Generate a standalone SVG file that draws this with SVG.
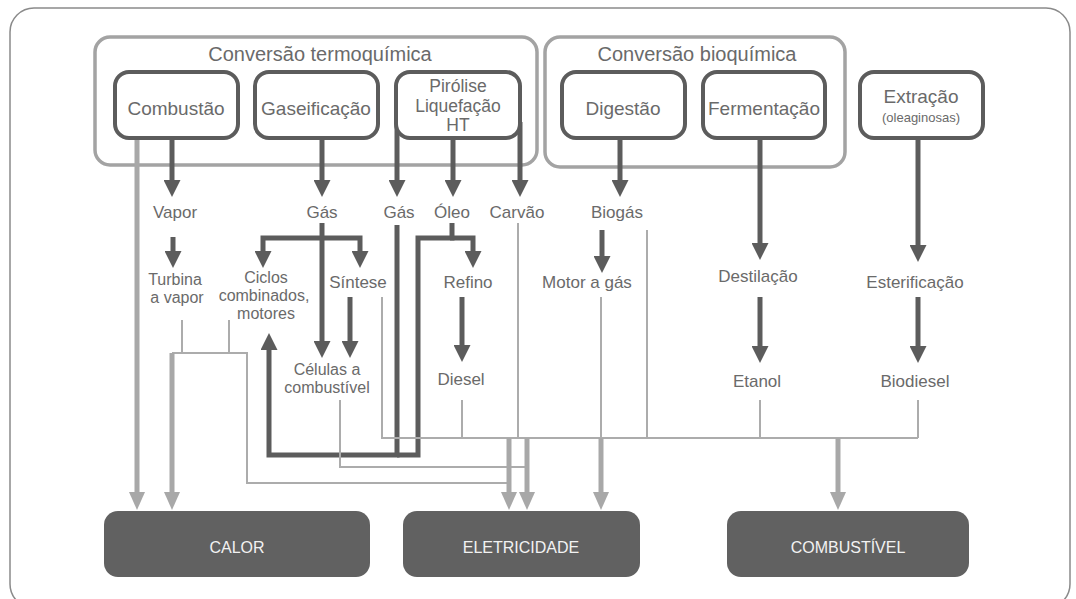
<svg xmlns="http://www.w3.org/2000/svg" width="1076" height="599" viewBox="0 0 1076 599">
<style>
.t{font-family:"Liberation Sans",Arial,sans-serif;fill:#6a6a6a;text-anchor:middle;font-size:17px}
.m{font-size:16px}
.n{font-size:19px}
.p{font-size:17.5px}
.h{font-size:20px}
.s{font-size:13px}
.w{font-family:"Liberation Sans",Arial,sans-serif;fill:#f2f2f2;text-anchor:middle;font-size:16px}
.grp{fill:none;stroke:#a3a3a3;stroke-width:3.5}
.box{fill:#fff;stroke:#5c5c5c;stroke-width:4}
.out{fill:#616161;stroke:none}
.d{fill:none;stroke:#5c5c5c;stroke-width:5;marker-end:url(#ad)}
.dn{fill:none;stroke:#5c5c5c;stroke-width:5}
.g{fill:none;stroke:#a8a8a8;stroke-width:5;marker-end:url(#ag)}
.l{fill:none;stroke:#acacac;stroke-width:2}
</style>
<defs>
<marker id="ad" viewBox="0 0 17 17" markerWidth="17" markerHeight="17" refX="5" refY="8.5" orient="auto" markerUnits="userSpaceOnUse"><path d="M0,0 L17,8.5 L0,17 z" fill="#5c5c5c"/></marker>
<marker id="ag" viewBox="0 0 18 16" markerWidth="18" markerHeight="16" refX="5" refY="8" orient="auto" markerUnits="userSpaceOnUse"><path d="M0,0 L18,8 L0,16 z" fill="#a8a8a8"/></marker>
</defs>
<rect x="0" y="0" width="1076" height="599" fill="#fff"/>
<rect x="10" y="8" width="1060" height="600" rx="24" fill="none" stroke="#8a8a8a" stroke-width="1.5"/>

<g id="grupo-termoquimica">
<rect class="grp" x="95" y="37" width="442" height="128" rx="15"/>
<text class="t h" x="320" y="61">Conversão termoquímica</text>
</g>
<g id="grupo-bioquimica">
<rect class="grp" x="545" y="37" width="300" height="130" rx="15"/>
<text class="t h" x="697" y="61">Conversão bioquímica</text>
</g>

<g id="connectors">
<path class="g" d="M137,138 V497"/>
<path class="d" d="M172,138 V185"/>
<path class="d" d="M322,138 V185"/>
<path class="d" d="M397,122 V185"/>
<path class="d" d="M453,138 V185"/>
<path class="d" d="M520,122 V185"/>
<path class="d" d="M620,138 V185"/>
<path class="d" d="M760,138 V248"/>
<path class="d" d="M918,138 V250"/>
<path class="d" d="M173,237 V256"/>
<path class="d" d="M322,223 V346"/>
<path class="d" d="M322,238 H263 V256"/>
<path class="d" d="M322,238 H360 V256"/>
<path class="d" d="M350,297 V346"/>
<path class="d" d="M397,225 V455 H269 V345"/>
<path class="dn" d="M452,223 V238 H418 V455 H397"/>
<path class="d" d="M450,238 H473 V256"/>
<path class="d" d="M462,297 V350"/>
<path class="d" d="M602,230 V261"/>
<path class="d" d="M760,297 V351"/>
<path class="d" d="M918,297 V351"/>
<path class="l" d="M182,320 V353"/>
<path class="l" d="M229,320 V353"/>
<path class="l" d="M172,353 H247 V483 H509"/>
<path class="l" d="M340,400 V467 H527"/>
<path class="l" d="M382,297 V438 H918"/>
<path class="l" d="M462,400 V438"/>
<path class="l" d="M518,223 V438"/>
<path class="l" d="M601,297 V438"/>
<path class="l" d="M647,230 V438"/>
<path class="l" d="M760,400 V438"/>
<path class="l" d="M918,400 V438"/>
<path class="g" d="M172,353 V497"/>
<path class="g" d="M509,438 V497"/>
<path class="g" d="M527,438 V497"/>
<path class="g" d="M601,438 V497"/>
<path class="g" d="M838,438 V497"/>
</g>

<g id="combustao"><rect class="box" x="115" y="72" width="123" height="66" rx="14"/><text class="t n" x="176" y="115">Combustão</text></g>
<g id="gaseificacao"><rect class="box" x="255" y="72" width="123" height="66" rx="14"/><text class="t n" x="316" y="115">Gaseificação</text></g>
<g id="pirolise"><rect class="box" x="396" y="72" width="124" height="66" rx="14"/><text class="t p" x="458" y="92">Pirólise</text><text class="t p" x="458" y="112">Liquefação</text><text class="t p" x="458" y="131">HT</text></g>
<g id="digestao"><rect class="box" x="562" y="72" width="123" height="66" rx="14"/><text class="t n" x="623" y="115">Digestão</text></g>
<g id="fermentacao"><rect class="box" x="703" y="72" width="122" height="66" rx="14"/><text class="t n" x="764" y="115">Fermentação</text></g>
<g id="extracao"><rect class="box" x="860" y="72" width="123" height="66" rx="14"/><text class="t n" x="921" y="103">Extração</text><text class="t s" x="921" y="122">(oleaginosas)</text></g>

<g id="vapor"><text class="t" x="175" y="218">Vapor</text></g>
<g id="gas1"><text class="t" x="322" y="218">Gás</text></g>
<g id="gas2"><text class="t" x="399" y="218">Gás</text></g>
<g id="oleo"><text class="t" x="452" y="218">Óleo</text></g>
<g id="carvao"><text class="t" x="517" y="218">Carvão</text></g>
<g id="biogas"><text class="t" x="617" y="218">Biogás</text></g>
<g id="turbina"><text class="t m" x="175" y="285">Turbina</text><text class="t m" x="177" y="303">a vapor</text></g>
<g id="ciclos"><text class="t m" x="266" y="283">Ciclos</text><text class="t m" x="264" y="301">combinados,</text><text class="t m" x="266" y="319">motores</text></g>
<g id="sintese"><text class="t" x="358" y="288">Síntese</text></g>
<g id="refino"><text class="t" x="468" y="288">Refino</text></g>
<g id="motor"><text class="t" x="587" y="288">Motor a gás</text></g>
<g id="destilacao"><text class="t" x="758" y="282">Destilação</text></g>
<g id="esterificacao"><text class="t" x="915" y="288">Esterificação</text></g>
<g id="celulas"><text class="t m" x="327" y="375">Células a</text><text class="t m" x="327" y="393">combustível</text></g>
<g id="diesel"><text class="t" x="461" y="385">Diesel</text></g>
<g id="etanol"><text class="t" x="757" y="387">Etanol</text></g>
<g id="biodiesel"><text class="t" x="915" y="387">Biodiesel</text></g>

<g id="calor"><rect class="out" x="104" y="511" width="266" height="66" rx="14"/><text class="w" x="237" y="553">CALOR</text></g>
<g id="eletricidade"><rect class="out" x="403" y="511" width="237" height="66" rx="14"/><text class="w" x="521" y="553">ELETRICIDADE</text></g>
<g id="combustivel"><rect class="out" x="727" y="511" width="242" height="66" rx="14"/><text class="w" x="848" y="553">COMBUSTÍVEL</text></g>
</svg>
